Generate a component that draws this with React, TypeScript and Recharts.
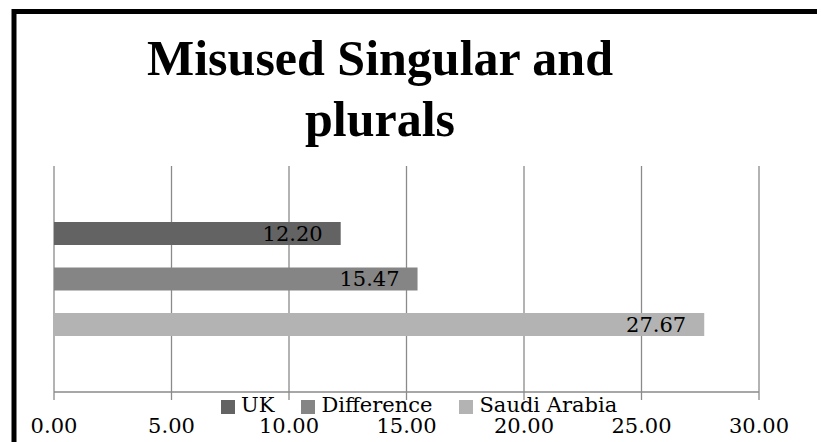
import React from "react";
import {
  BarChart,
  Bar,
  XAxis,
  YAxis,
  CartesianGrid,
  Legend,
  LabelList,
} from "recharts";

// ─── Data ─────────────────────────────────────────────────────────────────────

const categories = ["Misused Singular and plurals"];
const seriesNames = ["UK", "Difference", "Saudi Arabia"];
const ukValues = [12.2];
const differenceValues = [15.47];
const saudiValues = [27.67];
const xTicks = [0, 5, 10, 15, 20, 25, 30];

const data = categories.map((name, i) => ({
  name,
  uk: ukValues[i],
  difference: differenceValues[i],
  saudi: saudiValues[i],
}));

const SERIF = "'DejaVu Serif', serif";
const GRID = "#8a8a8a";

// ─── Legend ───────────────────────────────────────────────────────────────────

interface LegendEntry {
  value: string;
  color: string;
}

function SquareLegend({ payload }: { payload?: LegendEntry[] }) {
  if (!payload) return null;
  const items = [...payload].sort(
    (a, b) => seriesNames.indexOf(a.value) - seriesNames.indexOf(b.value)
  );
  return (
    <div style={{ display: "flex", alignItems: "center" }}>
      {items.map((entry) => (
        <div
          key={entry.value}
          style={{ display: "flex", alignItems: "center", marginRight: 27 }}
        >
          <span
            style={{
              width: 14,
              height: 14,
              marginTop: 3,
              marginRight: 6,
              background: entry.color,
              display: "inline-block",
            }}
          />
          <span
            style={{
              fontFamily: SERIF,
              fontSize: 21,
              lineHeight: "21px",
              color: "#000",
              whiteSpace: "nowrap",
            }}
          >
            {entry.value}
          </span>
        </div>
      ))}
    </div>
  );
}

// ─── Chart ────────────────────────────────────────────────────────────────────

export default function App() {
  return (
    <div
      style={{
        position: "fixed",
        left: 0,
        top: 0,
        width: 821,
        height: 442,
        background: "#fff",
      }}
    >
      {/* Frame: only the top and left edges fall inside the picture */}
      <svg
        width={821}
        height={442}
        style={{ position: "absolute", left: 0, top: 0, display: "block" }}
      >
        <path
          d="M14 442 V11.5 H817"
          stroke="#000"
          strokeWidth={5}
          fill="none"
        />
      </svg>

      {/* Title */}
      <div
        style={{
          position: "absolute",
          left: 0,
          width: 760,
          top: 28,
          textAlign: "center",
          fontFamily: "'Liberation Serif', serif",
          fontWeight: "bold",
          fontSize: 50,
          lineHeight: "61px",
          color: "#000",
        }}
      >
        Misused Singular and
        <br />
        plurals
      </div>

      <BarChart
        width={800}
        height={442}
        data={data}
        layout="vertical"
        margin={{ top: 166, right: 41, left: 54, bottom: 0 }}
        barSize={23}
        barGap={22.5}
        style={{ position: "absolute", left: 0, top: 0 }}
      >
        <CartesianGrid horizontal={false} stroke={GRID} strokeWidth={1.3} />
        <XAxis
          type="number"
          domain={[0, 30]}
          ticks={xTicks}
          interval={0}
          height={50}
          tickFormatter={(v: number) => v.toFixed(2)}
          tick={{ fontSize: 21, fill: "#000", fontFamily: SERIF }}
          axisLine={{ stroke: GRID, strokeWidth: 1.3 }}
          tickLine={{ stroke: GRID, strokeWidth: 1.3 }}
          tickSize={8}
          tickMargin={18}
        />
        <YAxis type="category" dataKey="name" hide />
        <Legend
          layout="horizontal"
          verticalAlign="middle"
          align="center"
          content={<SquareLegend />}
          wrapperStyle={{ top: 395, left: 221, width: "auto" }}
        />
        <Bar dataKey="uk" name="UK" fill="#636363" isAnimationActive={false}>
          <LabelList
            dataKey="uk"
            position="insideRight"
            offset={18}
            formatter={(v: number) => v.toFixed(2)}
            style={{ fontSize: 21, fill: "#000", fontFamily: SERIF }}
          />
        </Bar>
        <Bar
          dataKey="difference"
          name="Difference"
          fill="#858585"
          isAnimationActive={false}
        >
          <LabelList
            dataKey="difference"
            position="insideRight"
            offset={18}
            formatter={(v: number) => v.toFixed(2)}
            style={{ fontSize: 21, fill: "#000", fontFamily: SERIF }}
          />
        </Bar>
        <Bar
          dataKey="saudi"
          name="Saudi Arabia"
          fill="#b3b3b3"
          isAnimationActive={false}
        >
          <LabelList
            dataKey="saudi"
            position="insideRight"
            offset={18}
            formatter={(v: number) => v.toFixed(2)}
            style={{ fontSize: 21, fill: "#000", fontFamily: SERIF }}
          />
        </Bar>
      </BarChart>
    </div>
  );
}
